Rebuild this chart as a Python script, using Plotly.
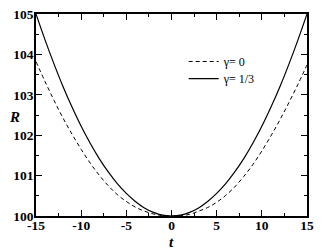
import plotly.graph_objects as go

# Data
t = list(range(-15, 16))
r_gamma0 = [103.82, 103.33, 102.86, 102.42, 102.02, 101.65, 101.31, 101.01, 100.75, 100.53,
            100.36, 100.22, 100.12, 100.05, 100.01, 100.00, 100.01, 100.04, 100.12, 100.21,
            100.34, 100.51, 100.72, 100.98, 101.27, 101.61, 101.98, 102.38, 102.81, 103.26,
            103.74]
r_gamma13 = [105.00, 104.36, 103.76, 103.20, 102.69, 102.22, 101.80, 101.42, 101.09, 100.80,
             100.56, 100.36, 100.20, 100.09, 100.02, 100.00, 100.02, 100.09, 100.20, 100.36,
             100.56, 100.80, 101.09, 101.42, 101.80, 102.22, 102.69, 103.20, 103.76, 104.36,
             105.00]
names = ["\u03b3= 0", "\u03b3= 1/3"]
x_ticks = [-15, -10, -5, 0, 5, 10, 15]
y_ticks = [100, 101, 102, 103, 104, 105]

serif = "Liberation Serif"

fig = go.Figure()
fig.add_trace(go.Scatter(x=t, y=r_gamma0, mode="lines", name=names[0], line_shape="spline",
                         line=dict(color="black", width=1, dash="4px,3px"), legend="legend"))
fig.add_trace(go.Scatter(x=t, y=r_gamma13, mode="lines", name=names[1], line_shape="spline",
                         line=dict(color="black", width=1.2), legend="legend2"))

axis_style = dict(
    showline=True, linecolor="black", linewidth=1.5, mirror="ticks",
    ticks="inside", ticklen=6, tickwidth=1, tickcolor="black",
    showgrid=False, zeroline=False, ticklabeloverflow="allow",
    tickfont=dict(family=serif, size=13.5, color="black", weight="bold"),
    minor=dict(ticks="inside", ticklen=3, tickwidth=1, tickcolor="black", showgrid=False),
)
fig.update_xaxes(range=[-15, 15], tickvals=x_ticks, ticktext=[str(v) for v in x_ticks],
                 minor_dtick=2.5, ticklabelstandoff=-4, **axis_style)
fig.update_yaxes(range=[100, 105], tickvals=y_ticks, ticktext=[str(v) for v in y_ticks],
                 minor_dtick=0.5, ticklabelstandoff=-2, **axis_style)

fig.add_annotation(text="<b><i>R</i></b>", xref="paper", yref="paper", x=-0.05, y=0.49,
                   xanchor="right", showarrow=False, font=dict(family=serif, size=15, color="black"))
fig.add_annotation(text="<b><i>t</i></b>", xref="paper", yref="paper", x=0.5, y=-0.08,
                   yanchor="top", showarrow=False, font=dict(family=serif, size=15, color="black"))

leg = dict(xanchor="left", yanchor="middle", bgcolor="rgba(0,0,0,0)", itemwidth=30,
           font=dict(family=serif, size=12, color="black"))

# page body adds an 8px margin, so the figure is 8px smaller than the window
fig.update_layout(
    width=323, height=244,
    margin=dict(l=27.5, r=23.5, t=6, b=36, autoexpand=False),
    plot_bgcolor="white", paper_bgcolor="white",
    showlegend=True,
    legend=dict(x=0.545, y=0.765, **leg),
    legend2=dict(x=0.545, y=0.68, **leg),
)

fig.write_html("out.html")
